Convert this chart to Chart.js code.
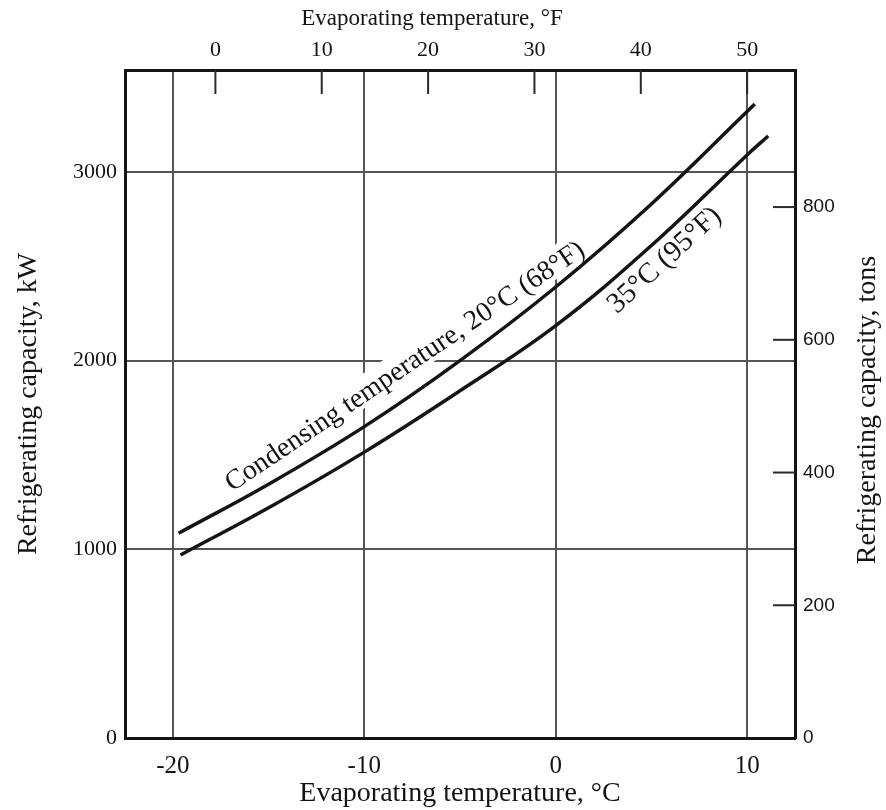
<!DOCTYPE html>
<html>
<head>
<meta charset="utf-8">
<script src="https://cdn.jsdelivr.net/npm/chart.js@4.4.1/dist/chart.umd.min.js"></script>
<style>
html,body{margin:0;padding:0;background:#fff;}
#wrap{width:886px;height:810px;position:relative;}
</style>
</head>
<body>
<div id="wrap"><canvas id="c" width="886" height="810"></canvas></div>
<script>
// ---- data ----
const tempC20 = [-19.7, -15, -10, -5, 0, 5, 10, 10.4];
const capKW20 = [1085, 1345, 1650, 2000, 2390, 2830, 3320, 3360];
const tempC35 = [-19.6, -15, -10, -5, 0, 5, 10, 11.1];
const capKW35 = [970, 1220, 1515, 1840, 2185, 2610, 3090, 3190];
const ticksC = [-20, -10, 0, 10];
const ticksF = [0, 10, 20, 30, 40, 50];
const ticksKW = [0, 1000, 2000, 3000];
const ticksTons = [0, 200, 400, 600, 800];
const curveLabels = ['Condensing temperature, 20°C (68°F)', '35°C (95°F)'];
const titleC = 'Evaporating temperature, °C';
const titleF = 'Evaporating temperature, °F';
const titleKW = 'Refrigerating capacity, kW';
const titleTons = 'Refrigerating capacity, tons';
const KW_PER_TON = 3.517;
const X_MIN = -22.5, X_MAX = 12.5, Y_MIN = 0, Y_MAX = 3540;

const SERIF = '"Liberation Serif", "Times New Roman", serif';
const SANS = '"Liberation Sans", Arial, sans-serif';
const INK = '#141414';

function interp(xs, ys, x) {
  if (x <= xs[0]) return ys[0];
  for (let i = 1; i < xs.length; i++) {
    if (x <= xs[i]) {
      const t = (x - xs[i - 1]) / (xs[i] - xs[i - 1]);
      return ys[i - 1] + t * (ys[i] - ys[i - 1]);
    }
  }
  return ys[ys.length - 1];
}

const labelDefs = [
  { text: curveLabels[0], xs: tempC20, ys: capKW20, x0: -16.9, x1: 2.0, o0: 12, o1: 5, size: 28, bg: true },
  { text: curveLabels[1], xs: tempC35, ys: capKW35, x0: 3.2, x1: 9.6, o0: -40, o1: -40, size: 29, bg: false }
];

function labelGeom(chart, d) {
  const sx = chart.scales.x, sy = chart.scales.y;
  const p0 = { x: sx.getPixelForValue(d.x0), y: sy.getPixelForValue(interp(d.xs, d.ys, d.x0)) - d.o0 };
  const p1 = { x: sx.getPixelForValue(d.x1), y: sy.getPixelForValue(interp(d.xs, d.ys, d.x1)) - d.o1 };
  const a = Math.atan2(p1.y - p0.y, p1.x - p0.x);
  return { p0, a };
}

const curveText = {
  id: 'curveText',
  beforeDatasetsDraw(chart) {
    const ctx = chart.ctx;
    labelDefs.forEach(d => {
      if (!d.bg) return;
      const g = labelGeom(chart, d);
      ctx.save();
      ctx.font = d.size + 'px ' + SERIF;
      const w = ctx.measureText(d.text).width;
      ctx.translate(g.p0.x, g.p0.y);
      ctx.rotate(g.a);
      ctx.fillStyle = '#ffffff';
      ctx.fillRect(-4, -d.size * 0.9, w + 8, d.size * 1.05);
      ctx.restore();
    });
  },
  afterDatasetsDraw(chart) {
    const ctx = chart.ctx;
    labelDefs.forEach(d => {
      const g = labelGeom(chart, d);
      ctx.save();
      ctx.font = d.size + 'px ' + SERIF;
      ctx.fillStyle = INK;
      ctx.textAlign = 'left';
      ctx.textBaseline = 'alphabetic';
      ctx.translate(g.p0.x, g.p0.y);
      ctx.rotate(g.a);
      ctx.fillText(d.text, 0, 0);
      ctx.restore();
    });
  }
};

const extras = {
  id: 'extras',
  afterDraw(chart) {
    const { ctx, chartArea: a, scales } = chart;
    ctx.save();
    ctx.strokeStyle = '#2a2a2a';
    ctx.lineWidth = 2;
    ticksF.forEach(v => {
      const x = scales.xF.getPixelForValue(v);
      ctx.beginPath(); ctx.moveTo(x, a.top); ctx.lineTo(x, a.top + 24); ctx.stroke();
    });
    ticksTons.forEach(v => {
      if (v === 0) return;
      const y = scales.yT.getPixelForValue(v);
      ctx.beginPath(); ctx.moveTo(a.right, y); ctx.lineTo(a.right - 22, y); ctx.stroke();
    });
    // top title (sits left of centre in the reference)
    ctx.fillStyle = INK;
    ctx.textAlign = 'center';
    ctx.textBaseline = 'middle';
    ctx.font = '23px ' + SERIF;
    ctx.fillText(titleF, 432, 19);
    // right title, reading bottom-to-top
    ctx.translate(scales.yT.right - 18, (a.top + a.bottom) / 2 + 6);
    ctx.rotate(-Math.PI / 2);
    ctx.font = '28px ' + SERIF;
    ctx.fillText(titleTons, 0, 0);
    ctx.restore();
  }
};

const setTicks = arr => s => { s.ticks = arr.map(v => ({ value: v })); };
const borderOpt = { display: true, color: INK, width: 3 };

new Chart(document.getElementById('c'), {
  type: 'line',
  data: {
    datasets: [
      { label: '20°C', data: tempC20.map((x, i) => ({ x, y: capKW20[i] })), borderColor: INK, borderWidth: 3.5, pointRadius: 0, tension: 0.4, fill: false },
      { label: '35°C', data: tempC35.map((x, i) => ({ x, y: capKW35[i] })), borderColor: INK, borderWidth: 3.5, pointRadius: 0, tension: 0.4, fill: false }
    ]
  },
  options: {
    responsive: false,
    animation: false,
    layout: { padding: 0 },
    plugins: { legend: { display: false }, tooltip: { enabled: false } },
    scales: {
      x: {
        type: 'linear', position: 'bottom', min: X_MIN, max: X_MAX,
        afterBuildTicks: setTicks(ticksC),
        afterFit: s => { s.height = 72; },
        grid: { drawOnChartArea: true, drawTicks: false, color: '#555', lineWidth: 2 },
        border: borderOpt,
        ticks: { padding: 13, color: INK, font: { family: SERIF, size: 25 }, callback: v => String(v) },
        title: { display: true, text: titleC, color: INK, font: { family: SERIF, size: 28 }, padding: { top: 0, bottom: 0 } }
      },
      xF: {
        type: 'linear', position: 'top', min: X_MIN * 1.8 + 32, max: X_MAX * 1.8 + 32,
        afterBuildTicks: setTicks(ticksF),
        afterFit: s => { s.height = 70; },
        grid: { drawOnChartArea: false, drawTicks: false },
        border: borderOpt,
        ticks: { padding: 7, color: INK, font: { family: SERIF, size: 22 }, callback: v => String(v) },
        title: { display: false }
      },
      y: {
        type: 'linear', position: 'left', min: Y_MIN, max: Y_MAX,
        afterBuildTicks: setTicks(ticksKW),
        afterFit: s => { s.width = 125; },
        grid: { drawOnChartArea: true, drawTicks: false, color: '#555', lineWidth: 2 },
        border: borderOpt,
        ticks: { padding: 8, color: INK, font: { family: SERIF, size: 22 }, callback: v => String(v) },
        title: { display: true, text: titleKW, color: INK, font: { family: SERIF, size: 28 }, padding: { top: 12, bottom: 0 } }
      },
      yT: {
        type: 'linear', position: 'right', min: Y_MIN / KW_PER_TON, max: Y_MAX / KW_PER_TON,
        afterBuildTicks: setTicks(ticksTons),
        afterFit: s => { s.width = 91; },
        grid: { drawOnChartArea: false, drawTicks: false },
        border: borderOpt,
        ticks: { padding: 8, color: INK, font: { family: SANS, size: 19 }, callback: v => String(v) },
        title: { display: false }
      }
    }
  },
  plugins: [curveText, extras]
});
</script>
</body>
</html>
